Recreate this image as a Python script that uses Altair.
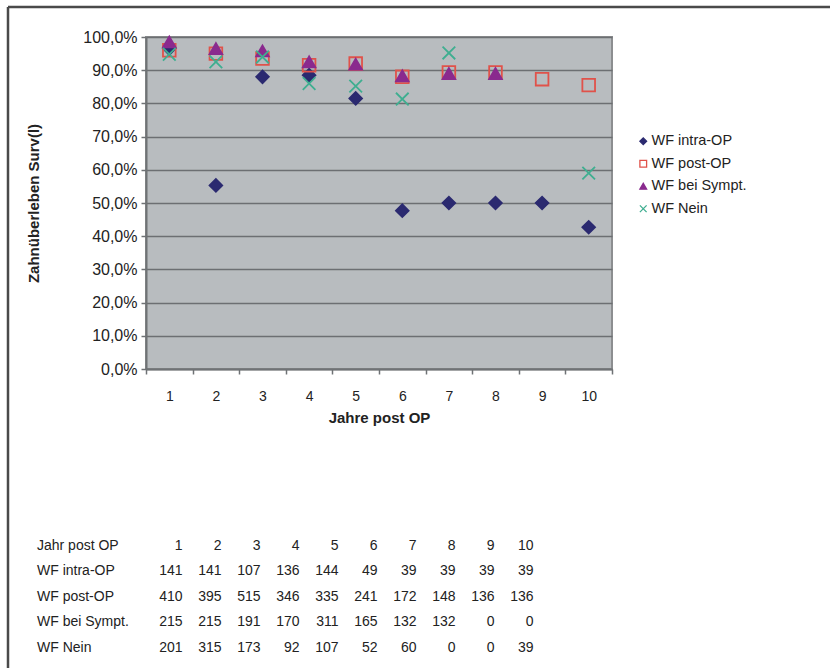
import altair as alt
import pandas as pd

years = ["1", "2", "3", "4", "5", "6", "7", "8", "9", "10"]
series = ["WF intra-OP", "WF post-OP", "WF bei Sympt.", "WF Nein"]

# survival values in percent (None = no point)
intra = [96.5, 55.3, 88.0, 88.5, 81.5, 47.7, 50.0, 50.0, 50.0, 42.7]
post = [96.0, 95.0, 93.5, 91.5, 92.0, 88.0, 89.3, 89.3, 87.3, 85.5]
sympt = [98.5, 96.5, 95.8, 92.5, 91.8, 88.3, 89.0, 89.0, None, None]
nein = [94.8, 92.5, 94.0, 86.0, 85.2, 81.3, 95.2, None, None, 59.0]

# table of case numbers
table_header = "Jahr post OP"
n_intra = [141, 141, 107, 136, 144, 49, 39, 39, 39, 39]
n_post = [410, 395, 515, 346, 335, 241, 172, 148, 136, 136]
n_sympt = [215, 215, 191, 170, 311, 165, 132, 132, 0, 0]
n_nein = [201, 315, 173, 92, 107, 52, 60, 0, 0, 39]

colors_stroke = ["#2b2a70", "#e0524a", "#8a2a8e", "#3fae90"]
colors_fill = ["#2b2a70", "transparent", "#8a2a8e", "transparent"]
shapes = ["diamond", "square", "triangle-up", "M-1,-1L1,1M1,-1L-1,1"]

FONT = "Liberation Sans"
TXT = "#222222"

rows = []
for name, vals in zip(series, [intra, post, sympt, nein]):
    for yr, v in zip(years, vals):
        if v is not None:
            rows.append({"Jahr": yr, "Serie": name, "Wert": v / 100})
df = pd.DataFrame(rows)


def leg():
    return alt.Legend(title=None, orient="none", legendX=490, legendY=97,
                      labelFont=FONT, labelFontSize=14.5, labelColor=TXT,
                      symbolSize=45, rowPadding=7.5, labelOffset=1,
                      symbolStrokeWidth=1.3)


points = alt.Chart(df).mark_point(size=160, strokeWidth=1.8, opacity=1).encode(
    x=alt.X("Jahr:O", sort=years,
            scale=alt.Scale(type="band", paddingInner=0, paddingOuter=0),
            axis=alt.Axis(title="Jahre post OP", labelAngle=0, tickBand="extent",
                          grid=False, domainColor="#6f7275", domainWidth=2,
                          tickColor="#6f7275", tickSize=5, tickWidth=1.5,
                          labelPadding=15, labelFont=FONT, labelFontSize=14,
                          labelColor=TXT, titleFont=FONT, titleFontSize=15,
                          titleFontWeight="bold", titleColor=TXT, titlePadding=7)),
    y=alt.Y("Wert:Q", scale=alt.Scale(domain=[0, 1]),
            axis=alt.Axis(title="Zahnüberleben Surv(l)",
                          values=[0, 0.1, 0.2, 0.3, 0.4, 0.5, 0.6, 0.7, 0.8, 0.9, 1.0],
                          labelExpr="replace(format(datum.value, '.1%'), '.', ',')",
                          gridColor="#6c6f72", gridWidth=1.5,
                          domainColor="#6f7275", domainWidth=2,
                          tickColor="#6f7275", tickSize=5, tickWidth=1.5,
                          labelPadding=4, labelFont=FONT, labelFontSize=16,
                          labelColor=TXT, titleFont=FONT, titleFontSize=15,
                          titleFontWeight="bold", titleColor=TXT, titlePadding=41)),
    shape=alt.Shape("Serie:N", sort=series,
                    scale=alt.Scale(domain=series, range=shapes), legend=leg()),
    fill=alt.Fill("Serie:N", sort=series,
                  scale=alt.Scale(domain=series, range=colors_fill), legend=leg()),
    stroke=alt.Stroke("Serie:N", sort=series,
                      scale=alt.Scale(domain=series, range=colors_stroke), legend=leg()),
    order=alt.Order("sortkey:Q"),
).transform_calculate(
    sortkey="indexof(['WF intra-OP','WF post-OP','WF bei Sympt.','WF Nein'], datum.Serie)"
)

frame_df = pd.DataFrame({"a": [0]})
frame_top = alt.Chart(frame_df).mark_rule(color="#4a4a4a", strokeWidth=2.5).encode(
    x=alt.value(-138), x2=alt.value(684), y=alt.value(-30))
frame_left = alt.Chart(frame_df).mark_rule(color="#4a4a4a", strokeWidth=2.5).encode(
    x=alt.value(-138), y=alt.value(-30), y2=alt.value(631))

# table below the plot
row_names = [table_header] + series
trows = []
for yr in years:
    trows.append({"Zeile": table_header, "Jahr": yr, "Text": yr})
for name, vals in zip(series, [n_intra, n_post, n_sympt, n_nein]):
    for yr, v in zip(years, vals):
        trows.append({"Zeile": name, "Jahr": yr, "Text": str(v)})
tdf = pd.DataFrame(trows)
ldf = pd.DataFrame({"Zeile": row_names})

TABLE_RANGE = [496, 623.5]

table = alt.Chart(tdf).mark_text(align="right", baseline="middle", dx=17,
                                 font=FONT, fontSize=14, color=TXT).encode(
    x=alt.X("Jahr:O", sort=years,
            scale=alt.Scale(type="band", range=[0, 390], paddingInner=0, paddingOuter=0),
            axis=None),
    y=alt.Y("Zeile:O", sort=row_names,
            scale=alt.Scale(type="band", domain=row_names, range=TABLE_RANGE,
                            paddingInner=0, paddingOuter=0),
            axis=None),
    text="Text:N",
)

labels = alt.Chart(ldf).mark_text(align="left", baseline="middle",
                                  font=FONT, fontSize=14, color=TXT).encode(
    x=alt.value(-109),
    y=alt.Y("Zeile:O", sort=row_names,
            scale=alt.Scale(type="band", domain=row_names, range=TABLE_RANGE,
                            paddingInner=0, paddingOuter=0),
            axis=None),
    text="Zeile:N",
)

chart = alt.layer(frame_top, frame_left, points, table, labels).resolve_scale(
    x="independent", y="independent"
).properties(
    width=466, height=332,
    padding={"left": 146, "top": 37, "right": 218, "bottom": 299},
    autosize=alt.AutoSizeParams(type="none"),
    background="white",
    view=alt.ViewBackground(fill="#b8bcbf", stroke="#8c8e90", strokeWidth=2),
)

chart.save("out.html", embed_options={"renderer": "svg", "actions": False})
